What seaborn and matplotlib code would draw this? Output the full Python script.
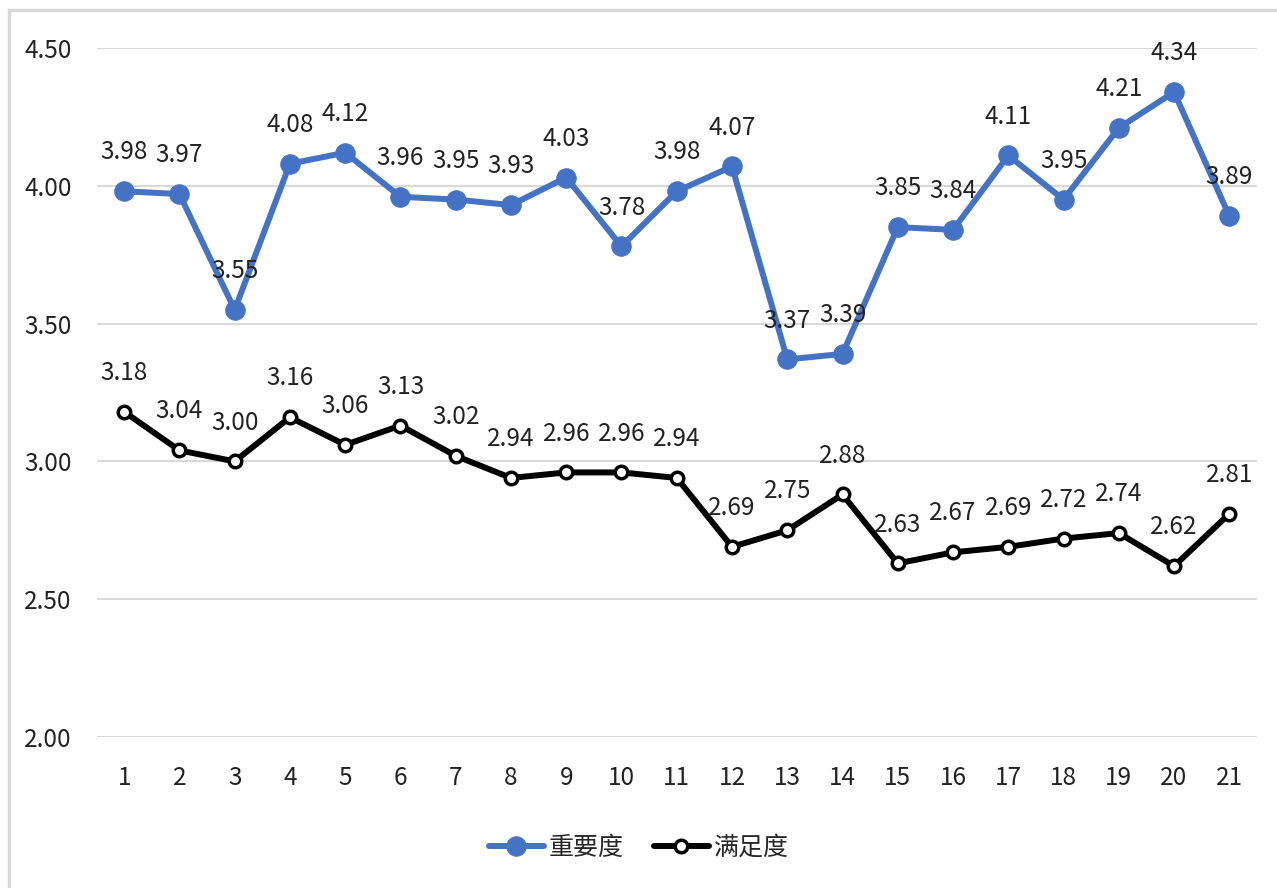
import numpy as np
import pandas as pd
import matplotlib
matplotlib.use("Agg")
import matplotlib.pyplot as plt
import seaborn as sns
from matplotlib.patches import Rectangle

# data
items = list(range(1, 22))
importance = [3.98, 3.97, 3.55, 4.08, 4.12, 3.96, 3.95, 3.93, 4.03, 3.78, 3.98,
              4.07, 3.37, 3.39, 3.85, 3.84, 4.11, 3.95, 4.21, 4.34, 3.89]
satisfaction = [3.18, 3.04, 3.00, 3.16, 3.06, 3.13, 3.02, 2.94, 2.96, 2.96, 2.94,
                2.69, 2.75, 2.88, 2.63, 2.67, 2.69, 2.72, 2.74, 2.62, 2.81]
series_names = ["重要度", "满足度"]
y_ticks = [2.0, 2.5, 3.0, 3.5, 4.0, 4.5]

sns.set_theme(style="white")
plt.rcParams["font.family"] = ["Noto Sans CJK SC", "DejaVu Sans"]

df = pd.DataFrame({"item": items, "imp": importance, "sat": satisfaction})

fig = plt.figure(figsize=(12.77, 8.88), dpi=100)
fig.patches.append(Rectangle((0.007, -0.1), 1.1, 1.089, transform=fig.transFigure,
                             fill=False, edgecolor="#d9d9d9", linewidth=2.5))
ax = fig.add_axes([0.0756, 0.170, 0.9087, 0.776])

blue = "#4472C4"
sns.lineplot(data=df, x="item", y="imp", ax=ax, color=blue, linewidth=4.3,
             marker="o", markersize=14, markeredgecolor=blue, markerfacecolor=blue,
             label=series_names[0])
sns.lineplot(data=df, x="item", y="sat", ax=ax, color="black", linewidth=4.3,
             marker="o", markersize=9, markeredgecolor="black", markeredgewidth=2.5,
             markerfacecolor="white", label=series_names[1])

# value labels above each point
for col in ["imp", "sat"]:
    for x, v in zip(df["item"], df[col]):
        ax.annotate(f"{v:.2f}", (x, v), xytext=(0, 28), textcoords="offset points",
                    ha="center", va="center", fontsize=17.5, color="#222222")

ax.set_xlim(0.5, 21.5)
ax.set_ylim(2.0, 4.5)
ax.set_xticks(items)
ax.set_xticklabels([str(i) for i in items])
ax.set_yticks(y_ticks)
ax.set_yticklabels([f"{t:.2f}" for t in y_ticks])
ax.grid(axis="y", color="#d9d9d9", linewidth=1.5)
ax.set_axisbelow(True)
for s in ax.spines.values():
    s.set_visible(False)
ax.tick_params(axis="both", length=0, labelsize=17.5, colors="#222222")
ax.tick_params(axis="y", pad=18)
ax.tick_params(axis="x", pad=20)
ax.set_xlabel("")
ax.set_ylabel("")

handles, labels = ax.get_legend_handles_labels()
ax.get_legend().remove()
fig.legend(handles, labels, loc="center", bbox_to_anchor=(0.5, 0.045), ncol=2,
           frameon=False, fontsize=18, handlelength=2.2, handletextpad=0.2,
           columnspacing=1.2)

fig.savefig("out.png", dpi=100, facecolor="white")
